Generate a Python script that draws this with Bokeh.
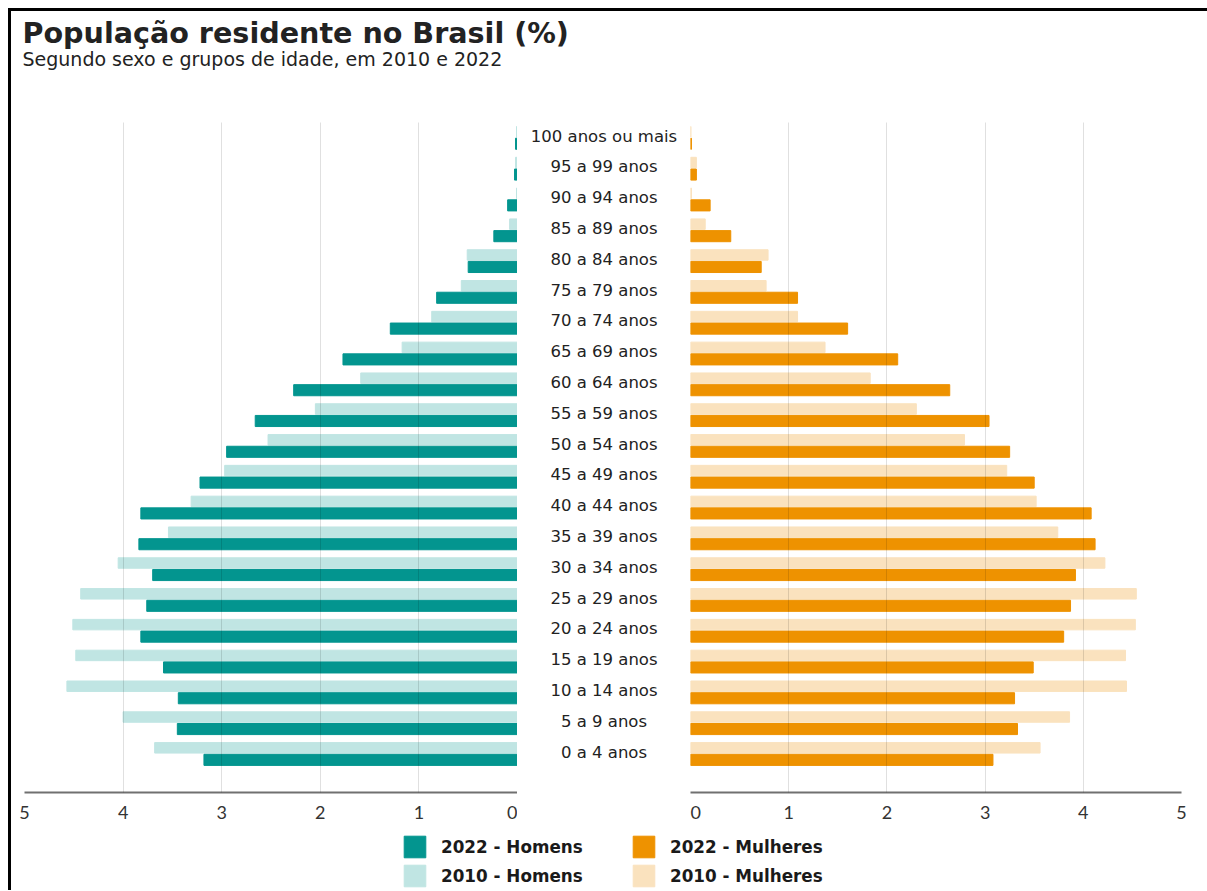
import numpy as np
from bokeh.plotting import figure
from bokeh.models import Range1d, FixedTicker, ColumnDataSource, Legend, LegendItem
from bokeh.layouts import column, row
from bokeh.core.properties import value
from bokeh.embed import file_html
from bokeh.resources import INLINE

# ---------------- data (youngest -> oldest) ----------------
ages = ["0 a 4 anos", "5 a 9 anos", "10 a 14 anos", "15 a 19 anos", "20 a 24 anos",
        "25 a 29 anos", "30 a 34 anos", "35 a 39 anos", "40 a 44 anos", "45 a 49 anos",
        "50 a 54 anos", "55 a 59 anos", "60 a 64 anos", "65 a 69 anos", "70 a 74 anos",
        "75 a 79 anos", "80 a 84 anos", "85 a 89 anos", "90 a 94 anos", "95 a 99 anos",
        "100 anos ou mais"]
men_2022 = [3.18, 3.45, 3.44, 3.59, 3.82, 3.76, 3.70, 3.84, 3.82, 3.22,
            2.95, 2.66, 2.27, 1.77, 1.29, 0.82, 0.50, 0.24, 0.10, 0.03, 0.02]
men_2010 = [3.68, 4.00, 4.57, 4.48, 4.51, 4.43, 4.05, 3.54, 3.31, 2.97,
            2.53, 2.05, 1.59, 1.17, 0.87, 0.57, 0.51, 0.08, 0.01, 0.02, 0.01]
women_2022 = [3.08, 3.33, 3.30, 3.49, 3.80, 3.87, 3.92, 4.12, 4.08, 3.50,
              3.25, 3.04, 2.64, 2.11, 1.60, 1.09, 0.72, 0.41, 0.20, 0.06, 0.01]
women_2010 = [3.56, 3.86, 4.44, 4.43, 4.53, 4.54, 4.22, 3.74, 3.52, 3.22,
              2.79, 2.30, 1.83, 1.37, 1.09, 0.77, 0.79, 0.15, 0.01, 0.06, 0.005]
axis_ticks = [0, 1, 2, 3, 4, 5]
series_labels = ["2022 - Homens", "2010 - Homens", "2022 - Mulheres", "2010 - Mulheres"]

C_M22 = "#03958f"
C_M10 = "#c0e5e3"
C_W22 = "#ee9200"
C_W10 = "#fae2be"

idx = np.arange(len(ages))
src = ColumnDataSource(dict(
    age=ages,
    y10=idx + 0.2,
    y22=idx - 0.19,
    ylab=idx + 0.06,
    m22=men_2022, m10=men_2010, w22=women_2022, w10=women_2010,
    zero=[0] * len(ages),
    xlab=[0.5] * len(ages),
))

YR = (-1.25, 20.50)
H = 719
TOP = 11
BOTTOM = 38
FONT = value("DejaVu Sans")


def panel(xr, width, mbl, mbr):
    p = figure(width=width, height=H, x_range=xr, y_range=Range1d(*YR),
               output_backend="svg", toolbar_location=None, y_axis_location=None,
               min_border_left=mbl, min_border_right=mbr,
               min_border_top=TOP, min_border_bottom=BOTTOM)
    p.outline_line_color = None
    p.ygrid.visible = False
    p.xgrid.ticker = FixedTicker(ticks=axis_ticks)
    p.xgrid.grid_line_color = "#000000"
    p.xgrid.grid_line_alpha = 0.12
    p.xgrid.level = "overlay"
    p.xaxis.ticker = FixedTicker(ticks=axis_ticks)
    p.xaxis.axis_line_color = "#707070"
    p.xaxis.axis_line_width = 2
    p.xaxis.major_tick_out = 0
    p.xaxis.major_tick_in = 0
    p.xaxis.minor_tick_out = 0
    p.xaxis.minor_tick_in = 0
    p.xaxis.major_label_standoff = 13
    p.xaxis.major_label_text_font = "Lato"
    p.xaxis.major_label_text_font_size = "18px"
    p.xaxis.major_label_text_color = "#333333"
    p.background_fill_color = "white"
    p.border_fill_color = "white"
    return p


left = panel(Range1d(5, 0), 506, 13, 0)
left.hbar(y="y10", left="zero", right="m10", height=0.34, color=C_M10, source=src)
left.hbar(y="y22", left="zero", right="m22", height=0.36, color=C_M22, source=src)

right = panel(Range1d(0, 5), 507, 0, 16)
right.hbar(y="y10", left="zero", right="w10", height=0.34, color=C_W10, source=src)
right.hbar(y="y22", left="zero", right="w22", height=0.36, color=C_W22, source=src)

mid = figure(width=173, height=H, x_range=Range1d(0, 1), y_range=Range1d(*YR),
             output_backend="svg", toolbar_location=None,
             x_axis_location=None, y_axis_location=None,
             min_border_left=0, min_border_right=0,
             min_border_top=TOP, min_border_bottom=BOTTOM)
mid.outline_line_color = None
mid.grid.visible = False
mid.text(x="xlab", y="ylab", text="age", source=src, text_align="center",
         text_baseline="middle", text_font=FONT, text_font_size="16.5px",
         text_color="#222222")

# ---------------- header ----------------
HW = 1197
HH = 100
header = figure(width=HW, height=HH, x_range=Range1d(0, HW), y_range=Range1d(HH, 0),
                output_backend="svg", toolbar_location=None,
                x_axis_location=None, y_axis_location=None,
                min_border=0)
header.outline_line_color = None
header.grid.visible = False
header.text(x=[11], y=[21.5], text=["População residente no Brasil (%)"],
            text_font=FONT, text_font_style="bold", text_font_size="28.6px",
            text_baseline="middle", text_color="#222222")
header.text(x=[11], y=[47], text=["Segundo sexo e grupos de idade, em 2010 e 2022"],
            text_font=FONT, text_font_size="19px",
            text_baseline="middle", text_color="#222222")

# ---------------- legend ----------------
LH = 60
leg = figure(width=HW, height=LH, x_range=Range1d(0, 1), y_range=Range1d(0, 1),
             output_backend="svg", toolbar_location=None,
             x_axis_location=None, y_axis_location=None, min_border=0)
leg.outline_line_color = None
leg.grid.visible = False
offscreen = ColumnDataSource(dict(y=[-10], l=[0], r=[1]))
r_m22 = leg.hbar(y="y", left="l", right="r", height=1, color=C_M22, source=offscreen)
r_m10 = leg.hbar(y="y", left="l", right="r", height=1, color=C_M10, source=offscreen)
r_w22 = leg.hbar(y="y", left="l", right="r", height=1, color=C_W22, source=offscreen)
r_w10 = leg.hbar(y="y", left="l", right="r", height=1, color=C_W10, source=offscreen)


def mklegend(items, x):
    lg = Legend(items=items, location=(x, 1), orientation="vertical",
                glyph_width=27, glyph_height=27, label_height=27, spacing=2,
                label_standoff=13, padding=0, margin=0,
                border_line_color=None, background_fill_alpha=0,
                label_text_font="DejaVu Sans", label_text_font_style="bold",
                label_text_font_size="16.8px", label_text_color="#1a1a1a")
    leg.add_layout(lg, "center")


mklegend([LegendItem(label=series_labels[0], renderers=[r_m22]),
          LegendItem(label=series_labels[1], renderers=[r_m10])], 390)
mklegend([LegendItem(label=series_labels[2], renderers=[r_w22]),
          LegendItem(label=series_labels[3], renderers=[r_w10])], 619)

layout = column(header, row(left, mid, right), leg,
                styles={"margin-left": "8px", "margin-top": "8px",
                        "border-top": "3px solid black",
                        "border-left": "3px solid black"})

open("out.html", "w").write(file_html(layout, INLINE))
